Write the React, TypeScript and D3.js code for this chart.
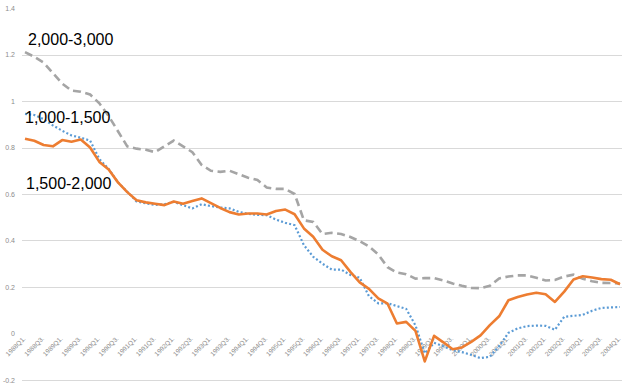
import { useEffect, useRef } from "react";
import * as d3 from "d3";

// quarterly categories, 1988Q1 – 2004Q1
const quarters = [
  "1988Q1", "1988Q2", "1988Q3", "1988Q4", "1989Q1", "1989Q2", "1989Q3", "1989Q4",
  "1990Q1", "1990Q2", "1990Q3", "1990Q4", "1991Q1", "1991Q2", "1991Q3", "1991Q4",
  "1992Q1", "1992Q2", "1992Q3", "1992Q4", "1993Q1", "1993Q2", "1993Q3", "1993Q4",
  "1994Q1", "1994Q2", "1994Q3", "1994Q4", "1995Q1", "1995Q2", "1995Q3", "1995Q4",
  "1996Q1", "1996Q2", "1996Q3", "1996Q4", "1997Q1", "1997Q2", "1997Q3", "1997Q4",
  "1998Q1", "1998Q2", "1998Q3", "1998Q4", "1999Q1", "1999Q2", "1999Q3", "1999Q4",
  "2000Q1", "2000Q2", "2000Q3", "2000Q4", "2001Q1", "2001Q2", "2001Q3", "2001Q4",
  "2002Q1", "2002Q2", "2002Q3", "2002Q4", "2003Q1", "2003Q2", "2003Q3", "2003Q4",
  "2004Q1",
];

// 1,500-2,000 (orange, solid)
const band1500 = [
  0.838, 0.829, 0.811, 0.805, 0.832, 0.825, 0.834, 0.800, 0.738, 0.705,
  0.650, 0.608, 0.573, 0.564, 0.558, 0.552, 0.568, 0.558, 0.570, 0.581,
  0.561, 0.540, 0.522, 0.512, 0.516, 0.516, 0.512, 0.527, 0.533, 0.513,
  0.452, 0.416, 0.360, 0.332, 0.315, 0.265, 0.220, 0.192, 0.151, 0.128,
  0.043, 0.050, 0.011, -0.120, -0.010, -0.038, -0.068, -0.060, -0.036, -0.008,
  0.036, 0.074, 0.143, 0.157, 0.168, 0.175, 0.169, 0.136, 0.180, 0.232,
  0.246, 0.241, 0.234, 0.231, 0.212,
];

// 1,000-1,500 (blue, dotted)
const band1000 = [
  0.945, 0.940, 0.922, 0.895, 0.872, 0.852, 0.842, 0.830, 0.750, 0.708,
  0.650, 0.610, 0.568, 0.560, 0.553, 0.556, 0.566, 0.552, 0.538, 0.556,
  0.548, 0.542, 0.538, 0.523, 0.515, 0.510, 0.509, 0.490, 0.476, 0.466,
  0.380, 0.330, 0.300, 0.275, 0.275, 0.252, 0.240, 0.160, 0.130, 0.130,
  0.118, 0.106, 0.035, -0.085, -0.040, -0.055, -0.072, -0.080, -0.092, -0.106,
  -0.100, -0.055, 0.003, 0.022, 0.032, 0.034, 0.033, 0.016, 0.072, 0.076,
  0.080, 0.098, 0.110, 0.112, 0.114,
];

// 2,000-3,000 (grey, dashed)
const band2000 = [
  1.210, 1.190, 1.165, 1.120, 1.075, 1.045, 1.040, 1.028, 0.990, 0.935,
  0.870, 0.805, 0.795, 0.790, 0.780, 0.805, 0.830, 0.805, 0.780, 0.725,
  0.700, 0.695, 0.700, 0.685, 0.670, 0.660, 0.628, 0.622, 0.622, 0.600,
  0.487, 0.480, 0.428, 0.433, 0.428, 0.415, 0.397, 0.375, 0.340, 0.285,
  0.262, 0.255, 0.236, 0.238, 0.238, 0.228, 0.215, 0.205, 0.196, 0.195,
  0.205, 0.237, 0.245, 0.250, 0.250, 0.240, 0.228, 0.230, 0.245, 0.253,
  0.235, 0.225, 0.218, 0.217, 0.215,
];

const yTicks = [-0.2, 0, 0.2, 0.4, 0.6, 0.8, 1, 1.2, 1.4];
const gridValues = [-0.2, 0.2, 0.4, 0.6, 0.8, 1, 1.2];

const W = 628;
const H = 390;

export default function App() {
  const svgRef = useRef<SVGSVGElement>(null);

  useEffect(() => {
    if (!svgRef.current) return;
    const svg = d3.select(svgRef.current);
    svg.selectAll("*").remove();

    const x = d3.scalePoint<string>().domain(quarters).range([25, 620]);
    const y = d3.scaleLinear().domain([-0.2, 1.4]).range([380, 8]);

    // ── gridlines ────────────────────────────────────────────
    svg.append("g")
      .selectAll("line")
      .data(gridValues)
      .join("line")
      .attr("x1", 22).attr("x2", 622)
      .attr("y1", (d) => Math.round(y(d)) + 0.5)
      .attr("y2", (d) => Math.round(y(d)) + 0.5)
      .attr("stroke", "#d9d9d9")
      .attr("stroke-width", 1);

    // ── y tick labels ────────────────────────────────────────
    svg.append("g")
      .selectAll("text")
      .data(yTicks)
      .join("text")
      .attr("x", 15)
      .attr("y", (d) => y(d) + 2.5)
      .attr("text-anchor", "end")
      .attr("font-family", "'Liberation Sans', Arial, sans-serif")
      .attr("font-size", 7)
      .attr("fill", "#8c8c8c")
      .text((d) => String(d));

    // ── x tick labels (every other quarter, rotated) ─────────
    const labelled = quarters.filter((_, i) => i % 2 === 0);
    svg.append("g")
      .selectAll("text")
      .data(labelled)
      .join("text")
      .attr("text-anchor", "end")
      .attr("transform", (d) => `translate(${(x(d) ?? 0) + 1},339) rotate(-45)`)
      .attr("font-family", "'Liberation Sans', Arial, sans-serif")
      .attr("font-size", 6.5)
      .attr("fill", "#8c8c8c")
      .text((d) => `${d}.`);

    // ── series ───────────────────────────────────────────────
    const line = d3.line<number>()
      .x((_, i) => x(quarters[i]) ?? 0)
      .y((d) => y(d));

    svg.append("path").datum(band2000)
      .attr("fill", "none")
      .attr("stroke", "#a5a5a5")
      .attr("stroke-width", 2.6)
      .attr("stroke-dasharray", "8,4.5")
      .attr("d", line);

    svg.append("path").datum(band1000)
      .attr("fill", "none")
      .attr("stroke", "#5b9bd5")
      .attr("stroke-width", 2.2)
      .attr("stroke-dasharray", "2,2.2")
      .attr("d", line);

    svg.append("path").datum(band1500)
      .attr("fill", "none")
      .attr("stroke", "#ed7d31")
      .attr("stroke-width", 2.6)
      .attr("stroke-linejoin", "round")
      .attr("d", line);

    // ── series labels ────────────────────────────────────────
    const labels: [string, number, number][] = [
      ["2,000-3,000", 28, 45],
      ["1,000-1,500", 25, 123],
      ["1,500-2,000", 26, 189],
    ];
    svg.append("g")
      .selectAll("text")
      .data(labels)
      .join("text")
      .attr("x", (d) => d[1])
      .attr("y", (d) => d[2])
      .attr("font-family", "'Liberation Sans', Arial, sans-serif")
      .attr("font-size", 16)
      .attr("fill", "#000")
      .text((d) => d[0]);
  }, []);

  return (
    <div style={{ position: "absolute", left: 0, top: 0 }}>
      <svg ref={svgRef} width={W} height={H} style={{ display: "block", background: "#fff" }} />
    </div>
  );
}
